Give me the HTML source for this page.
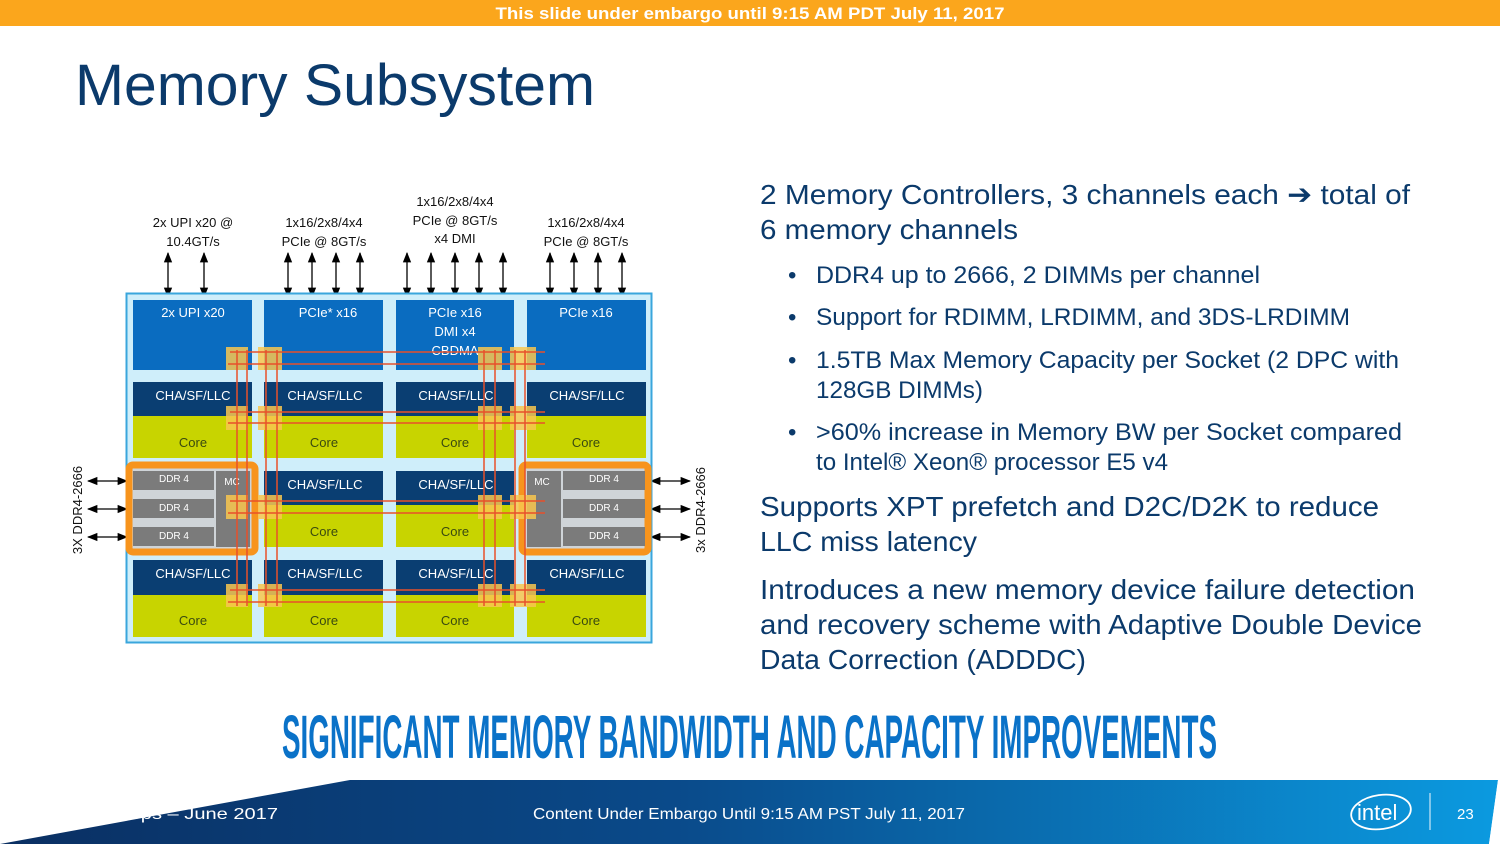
<!DOCTYPE html>
<html><head><meta charset="utf-8"><style>
html,body{margin:0;padding:0;background:#fff;}
svg{display:block;}
text{font-family:"Liberation Sans",sans-serif;}
</style></head><body>
<svg width="1500" height="844" viewBox="0 0 1500 844" xmlns="http://www.w3.org/2000/svg">
<defs>
<linearGradient id="bg" x1="0" x2="1" y1="0" y2="0">
<stop offset="0" stop-color="#0a2f62"/><stop offset="0.45" stop-color="#0a4a8a"/><stop offset="1" stop-color="#0b9ae0"/>
</linearGradient>
<marker id="ah" viewBox="0 0 10 10" refX="9" refY="5" markerWidth="8" markerHeight="8" orient="auto-start-reverse"><path d="M0,1 L10,5 L0,9 z" fill="#000"/></marker>
</defs>
<rect x="0" y="0" width="1500" height="26" fill="#fba61c"/>
<text x="750" y="19" text-anchor="middle" font-size="17" font-weight="bold" fill="#fff" textLength="509" lengthAdjust="spacingAndGlyphs">This slide under embargo until 9:15 AM PDT July 11, 2017</text>
<text x="75" y="105" font-size="58" fill="#0b3a6b" textLength="520" lengthAdjust="spacingAndGlyphs">Memory Subsystem</text>

<g font-size="13" fill="#111" text-anchor="middle">
<text x="193" y="227">2x UPI x20 @</text><text x="193" y="246">10.4GT/s</text>
<text x="324" y="227">1x16/2x8/4x4</text><text x="324" y="246">PCIe @ 8GT/s</text>
<text x="455" y="206">1x16/2x8/4x4</text><text x="455" y="225">PCIe @ 8GT/s</text><text x="455" y="243">x4 DMI</text>
<text x="586" y="227">1x16/2x8/4x4</text><text x="586" y="246">PCIe @ 8GT/s</text>
</g>
<g stroke="#000" stroke-width="1.3" marker-start="url(#ah)" marker-end="url(#ah)">
<line x1="168" y1="253" x2="168" y2="297"/><line x1="204" y1="253" x2="204" y2="297"/>
<line x1="288" y1="253" x2="288" y2="297"/><line x1="312" y1="253" x2="312" y2="297"/><line x1="336" y1="253" x2="336" y2="297"/><line x1="360" y1="253" x2="360" y2="297"/>
<line x1="407" y1="253" x2="407" y2="297"/><line x1="431" y1="253" x2="431" y2="297"/><line x1="455" y1="253" x2="455" y2="297"/><line x1="479" y1="253" x2="479" y2="297"/><line x1="503" y1="253" x2="503" y2="297"/>
<line x1="550" y1="253" x2="550" y2="297"/><line x1="574" y1="253" x2="574" y2="297"/><line x1="598" y1="253" x2="598" y2="297"/><line x1="622" y1="253" x2="622" y2="297"/>
<line x1="88" y1="481" x2="127" y2="481"/><line x1="88" y1="509" x2="127" y2="509"/><line x1="88" y1="537" x2="127" y2="537"/>
<line x1="651" y1="481" x2="690" y2="481"/><line x1="651" y1="509" x2="690" y2="509"/><line x1="651" y1="537" x2="690" y2="537"/>
</g>
<text transform="translate(82,510) rotate(-90)" text-anchor="middle" font-size="13" fill="#111">3X DDR4-2666</text>
<text transform="translate(705,510) rotate(-90)" text-anchor="middle" font-size="13" fill="#111">3x DDR4-2666</text>

<rect x="126.5" y="293.5" width="525" height="349" fill="#cfeefa" stroke="#3aa6dc" stroke-width="2"/>
<g fill="#0a6cc0">
<rect x="133" y="300" width="119" height="70"/><rect x="264" y="300" width="119" height="70"/><rect x="396" y="300" width="118" height="70"/><rect x="527" y="300" width="119" height="70"/>
</g>
<g fill="#0a3e72">
<rect x="133" y="382" width="119" height="34"/><rect x="264" y="382" width="119" height="34"/><rect x="396" y="382" width="118" height="34"/><rect x="527" y="382" width="119" height="34"/>
<rect x="264" y="471" width="119" height="34"/><rect x="396" y="471" width="118" height="34"/>
<rect x="133" y="560" width="119" height="35"/><rect x="264" y="560" width="119" height="35"/><rect x="396" y="560" width="118" height="35"/><rect x="527" y="560" width="119" height="35"/>
</g>
<g fill="#c8d400">
<rect x="133" y="416" width="119" height="42"/><rect x="264" y="416" width="119" height="42"/><rect x="396" y="416" width="118" height="42"/><rect x="527" y="416" width="119" height="42"/>
<rect x="264" y="505" width="119" height="42"/><rect x="396" y="505" width="118" height="42"/>
<rect x="133" y="595" width="119" height="42"/><rect x="264" y="595" width="119" height="42"/><rect x="396" y="595" width="118" height="42"/><rect x="527" y="595" width="119" height="42"/>
</g>
<rect x="129" y="465" width="126" height="87" rx="4" fill="#cfd4d8" stroke="#f7941d" stroke-width="7"/>
<g fill="#7b7b7b">
<rect x="133" y="471" width="81" height="19"/><rect x="133" y="499" width="81" height="19"/><rect x="133" y="527" width="81" height="19"/><rect x="216" y="471" width="34" height="76"/>
</g>
<rect x="522" y="465" width="126" height="87" rx="4" fill="#cfd4d8" stroke="#f7941d" stroke-width="7"/>
<g fill="#7b7b7b">
<rect x="563" y="471" width="82" height="19"/><rect x="563" y="499" width="82" height="19"/><rect x="563" y="527" width="82" height="19"/><rect x="527" y="471" width="34" height="76"/>
</g>
<g font-size="10" fill="#fff" text-anchor="middle">
<text x="174" y="482">DDR 4</text><text x="174" y="511">DDR 4</text><text x="174" y="539">DDR 4</text><text x="232" y="485">MC</text>
<text x="604" y="482">DDR 4</text><text x="604" y="511">DDR 4</text><text x="604" y="539">DDR 4</text><text x="542" y="485">MC</text>
</g>
<g font-size="13" fill="#fff" text-anchor="middle">
<text x="193" y="317">2x UPI x20</text><text x="328" y="317">PCIe* x16</text>
<text x="455" y="317">PCIe x16</text><text x="455" y="336">DMI x4</text><text x="455" y="355">CBDMA</text>
<text x="586" y="317">PCIe x16</text>
<text x="193" y="400">CHA/SF/LLC</text><text x="325" y="400">CHA/SF/LLC</text><text x="456" y="400">CHA/SF/LLC</text><text x="587" y="400">CHA/SF/LLC</text>
<text x="325" y="489">CHA/SF/LLC</text><text x="456" y="489">CHA/SF/LLC</text>
<text x="193" y="578">CHA/SF/LLC</text><text x="325" y="578">CHA/SF/LLC</text><text x="456" y="578">CHA/SF/LLC</text><text x="587" y="578">CHA/SF/LLC</text>
</g>
<g font-size="13" fill="#3a4a10" text-anchor="middle">
<text x="193" y="447">Core</text><text x="324" y="447">Core</text><text x="455" y="447">Core</text><text x="586" y="447">Core</text>
<text x="324" y="536">Core</text><text x="455" y="536">Core</text>
<text x="193" y="625">Core</text><text x="324" y="625">Core</text><text x="455" y="625">Core</text><text x="586" y="625">Core</text>
</g>
<g fill="#f9c74f" opacity="0.85">
<rect x="226" y="347" width="22" height="23"/><rect x="258" y="347" width="24" height="23"/><rect x="478" y="347" width="24" height="23"/><rect x="510" y="347" width="26" height="23"/>
<rect x="226" y="406" width="22" height="24"/><rect x="258" y="406" width="24" height="24"/><rect x="478" y="406" width="24" height="24"/><rect x="510" y="406" width="26" height="24"/>
<rect x="226" y="495" width="22" height="24"/><rect x="258" y="495" width="24" height="24"/><rect x="478" y="495" width="24" height="24"/><rect x="510" y="495" width="26" height="24"/>
<rect x="226" y="584" width="22" height="23"/><rect x="258" y="584" width="24" height="23"/><rect x="478" y="584" width="24" height="23"/><rect x="510" y="584" width="26" height="23"/>
</g>
<g stroke="#e8502a" stroke-width="1.5" fill="none">
<line x1="230" y1="352" x2="545" y2="352"/><line x1="228" y1="364" x2="545" y2="364"/>
<line x1="230" y1="412" x2="545" y2="412"/><line x1="228" y1="423" x2="545" y2="423"/>
<line x1="230" y1="501" x2="545" y2="501"/><line x1="228" y1="513" x2="545" y2="513"/>
<line x1="230" y1="590" x2="545" y2="590"/><line x1="228" y1="602" x2="545" y2="602"/>
<line x1="237" y1="350" x2="237" y2="606"/><line x1="247" y1="350" x2="247" y2="606"/>
<line x1="266" y1="350" x2="266" y2="606"/><line x1="277" y1="350" x2="277" y2="606"/>
<line x1="484" y1="350" x2="484" y2="606"/><line x1="495" y1="350" x2="495" y2="606"/>
<line x1="515" y1="350" x2="515" y2="606"/><line x1="525" y1="350" x2="525" y2="606"/>
</g>

<g fill="#0b3a6b">
<text x="760" y="204" font-size="28" textLength="650" lengthAdjust="spacingAndGlyphs">2 Memory Controllers, 3 channels each ➔ total of</text>
<text x="760" y="239" font-size="28" textLength="258" lengthAdjust="spacingAndGlyphs">6 memory channels</text>
<g font-size="24">
<text x="788" y="283">•</text><text x="788" y="325">•</text><text x="788" y="368">•</text><text x="788" y="440">•</text>
<text x="816" y="283" textLength="444" lengthAdjust="spacingAndGlyphs">DDR4 up to 2666, 2 DIMMs per channel</text>
<text x="816" y="325" textLength="534" lengthAdjust="spacingAndGlyphs">Support for RDIMM, LRDIMM, and 3DS-LRDIMM</text>
<text x="816" y="368" textLength="583" lengthAdjust="spacingAndGlyphs">1.5TB Max Memory Capacity per Socket (2 DPC with</text>
<text x="816" y="398" textLength="167" lengthAdjust="spacingAndGlyphs">128GB DIMMs)</text>
<text x="816" y="440" textLength="586" lengthAdjust="spacingAndGlyphs">&gt;60% increase in Memory BW per Socket compared</text>
<text x="816" y="470" textLength="352" lengthAdjust="spacingAndGlyphs">to Intel® Xeon® processor E5 v4</text>
</g>
<g font-size="28">
<text x="760" y="516" textLength="619" lengthAdjust="spacingAndGlyphs">Supports XPT prefetch and D2C/D2K to reduce</text>
<text x="760" y="551" textLength="217" lengthAdjust="spacingAndGlyphs">LLC miss latency</text>
<text x="760" y="599" textLength="655" lengthAdjust="spacingAndGlyphs">Introduces a new memory device failure detection</text>
<text x="760" y="634" textLength="662" lengthAdjust="spacingAndGlyphs">and recovery scheme with Adaptive Double Device</text>
<text x="760" y="669" textLength="326" lengthAdjust="spacingAndGlyphs">Data Correction (ADDDC)</text>
</g>
</g>
<text x="282" y="758" font-size="61" font-weight="bold" fill="#0a72c8" textLength="935" lengthAdjust="spacingAndGlyphs">SIGNIFICANT MEMORY BANDWIDTH AND CAPACITY IMPROVEMENTS</text>

<polygon points="0,844 0,780 1498,780 1489,844" fill="url(#bg)"/>
<text x="62" y="819" font-size="16" fill="#fff" textLength="216" lengthAdjust="spacingAndGlyphs">Workshops – June 2017</text>
<polygon points="0,770 360,770 350,780 0,844" fill="#fff"/>
<text x="533" y="819" font-size="16" fill="#fff" textLength="432" lengthAdjust="spacingAndGlyphs">Content Under Embargo Until 9:15 AM PST July 11, 2017</text>
<ellipse cx="1381" cy="812" rx="30" ry="17" fill="none" stroke="#fff" stroke-width="1.8" transform="rotate(-8 1381 812)"/>
<text x="1357" y="820" font-size="22" fill="#fff">intel</text>
<line x1="1430" y1="793" x2="1430" y2="830" stroke="#fff" stroke-width="1.2" opacity="0.8"/>
<text x="1457" y="819" font-size="15" fill="#fff">23</text>
<polygon points="1498,780 1500,780 1500,844 1489,844" fill="#fff"/>
</svg>
</body></html>
